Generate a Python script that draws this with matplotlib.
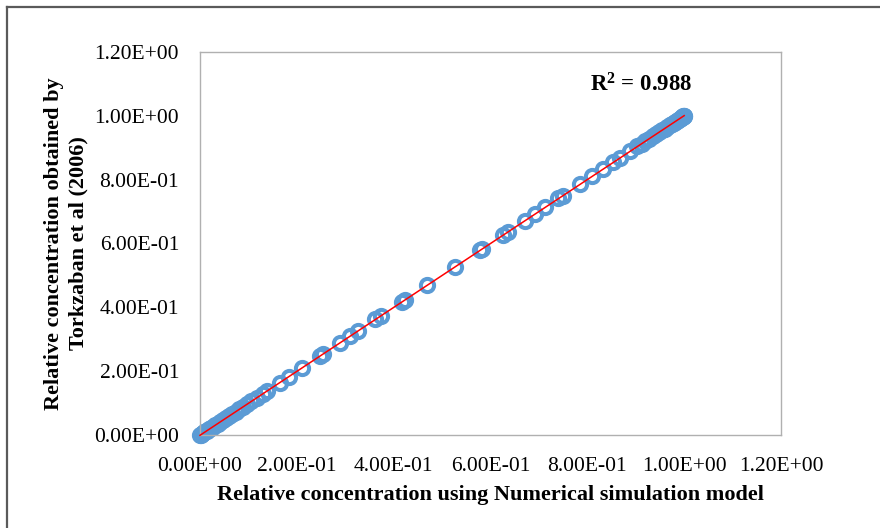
import numpy as np
import matplotlib.pyplot as plt
from matplotlib.lines import Line2D

# Relative concentration: numerical model (x) vs Torkzaban et al (2006) (y)
x_model = [0.000, 0.002, 0.004, 0.006, 0.009, 0.012, 0.015, 0.019, 0.023, 0.027,
           0.032, 0.037, 0.042, 0.048, 0.054, 0.060, 0.067, 0.074, 0.081, 0.089,
           0.097, 0.106, 0.118, 0.130, 0.138, 0.165, 0.184, 0.211, 0.248, 0.254,
           0.289, 0.310, 0.327, 0.362, 0.374, 0.417, 0.424, 0.469, 0.527, 0.579,
           0.582, 0.626, 0.636, 0.671, 0.692, 0.713, 0.740, 0.750, 0.785, 0.810,
           0.833, 0.853, 0.868, 0.888, 0.903, 0.912, 0.920, 0.928, 0.935, 0.942,
           0.948, 0.954, 0.960, 0.965, 0.970, 0.974, 0.978, 0.982, 0.985, 0.988,
           0.991, 0.993, 0.995, 0.997, 0.998, 0.999, 1.000]
y_torkzaban = [0.000, 0.001, 0.003, 0.006, 0.008, 0.011, 0.014, 0.018, 0.022, 0.026,
               0.031, 0.036, 0.041, 0.047, 0.053, 0.059, 0.066, 0.073, 0.080, 0.088,
               0.096, 0.105, 0.117, 0.129, 0.137, 0.164, 0.183, 0.210, 0.247, 0.254,
               0.288, 0.309, 0.327, 0.362, 0.374, 0.417, 0.424, 0.470, 0.527, 0.580,
               0.582, 0.627, 0.636, 0.671, 0.692, 0.713, 0.741, 0.750, 0.786, 0.811,
               0.834, 0.854, 0.869, 0.889, 0.904, 0.912, 0.921, 0.928, 0.936, 0.942,
               0.949, 0.955, 0.960, 0.966, 0.970, 0.975, 0.978, 0.982, 0.985, 0.988,
               0.991, 0.993, 0.995, 0.997, 0.998, 0.999, 1.000]
tick_vals = [0.0, 0.2, 0.4, 0.6, 0.8, 1.0, 1.2]
tick_labels = ['0.00E+00', '2.00E-01', '4.00E-01', '6.00E-01', '8.00E-01', '1.00E+00', '1.20E+00']

plt.rcParams['font.family'] = ['Liberation Serif', 'DejaVu Serif']
plt.rcParams['mathtext.fontset'] = 'custom'
plt.rcParams['mathtext.rm'] = 'Liberation Serif'
plt.rcParams['mathtext.bf'] = 'Liberation Serif:bold'

fig = plt.figure(figsize=(8.8, 5.28), dpi=100)
ax = fig.add_axes([200/880, 1-435/528, 581/880, 383/528])

ax.plot(x_model, y_torkzaban, linestyle='none', marker='o', ms=9.5, mew=2.9,
        mfc='none', mec='#5B9BD5', zorder=2, clip_on=False)

# linear trendline
slope, icpt = np.polyfit(x_model, y_torkzaban, 1)
xs = np.array([min(x_model), max(x_model)])
ax.plot(xs, slope*xs + icpt, color='#FF0000', lw=1.1, zorder=3, clip_on=False)

ax.set_xlim(0, 1.2)
ax.set_ylim(0, 1.2)
ax.set_xticks(tick_vals)
ax.set_xticklabels(tick_labels)
ax.set_yticks(tick_vals)
ax.set_yticklabels(tick_labels)
ax.tick_params(length=0, labelsize=15.5, colors='#000000')
ax.tick_params(axis='x', pad=16)
ax.tick_params(axis='y', pad=15)
for s in ax.spines.values():
    s.set_color('#B0B0B0')
    s.set_linewidth(1.0)

ax.set_xlabel('Relative concentration using Numerical simulation model',
              fontsize=16, fontweight='bold', labelpad=6)
ax.set_ylabel('Relative concentration obtained by\nTorkzaban et al (2006)',
              fontsize=16, fontweight='bold', labelpad=4, linespacing=1.3)

ax.text(1.016, 1.097, r'$\mathbf{R^2}$' + ' = 0.988', fontsize=16.5, fontweight='bold',
        ha='right', va='center')

# outer chart frame (left and top edges visible)
fig.add_artist(Line2D([7/880, 7/880], [0, 1-7/528], transform=fig.transFigure,
                      color='#5A5A5A', lw=1.6))
fig.add_artist(Line2D([7/880, 1], [1-7/528, 1-7/528], transform=fig.transFigure,
                      color='#5A5A5A', lw=1.6))

fig.savefig('out.png', dpi=100)
